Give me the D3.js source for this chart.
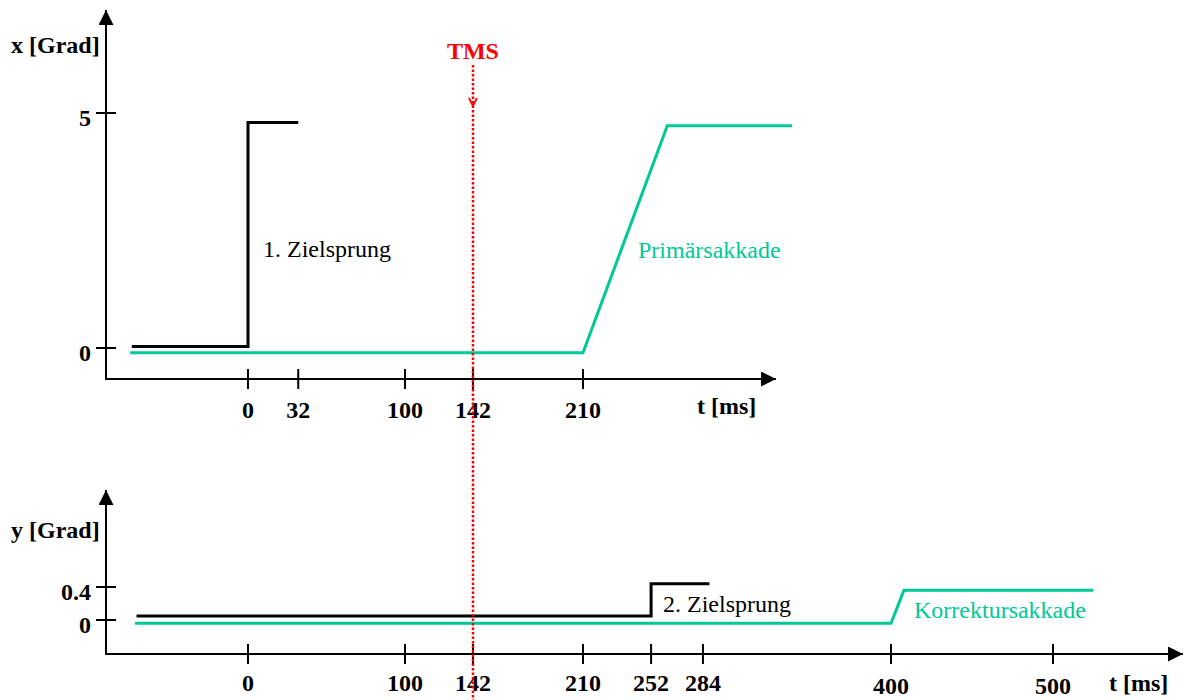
<!DOCTYPE html>
<html><head><meta charset="utf-8">
<script src="https://cdn.jsdelivr.net/npm/d3@7"></script>
<style>
html,body{margin:0;padding:0;background:#fff;}
svg{display:block;}
text{font-family:"Liberation Serif","Times New Roman",serif;}
</style></head>
<body><svg id="c" width="1184" height="700"></svg>
<script>
// ---- data ----
const topTicksX = [0, 32, 100, 142, 210];
const topTicksY = [0, 5];
const botTicksX = [0, 100, 142, 210, 252, 284, 400, 500];
const botTicksY = [0, 0.4];
// target (black) and eye (cyan) traces, top panel: [t ms, x Grad]
const topTarget = [[-74, 0.03], [0, 0.03], [0, 4.8], [32, 4.8]];
const topEye = [[-75, -0.1], [210, -0.1], [262, 4.73], [339, 4.73]];
// bottom panel: [t ms, y Grad]
const botTarget = [[-71, 0.05], [252, 0.05], [252, 0.44], [288, 0.44]];
const botEye = [[-72, -0.04], [400, -0.04], [408, 0.36], [525, 0.36]];
const tmsTime = 142;
const labels = {
  topY: "x [Grad]", botY: "y [Grad]", t: "t [ms]", tms: "TMS",
  jump1: "1. Zielsprung", jump2: "2. Zielsprung",
  sac1: "Primärsakkade", sac2: "Korrektursakkade"
};

const CYAN = "#00c896", RED = "#ff0000";
const FS = 24;
const svg = d3.select("#c");
// schematic (piecewise) time axis as drawn in the original
const x = d3.scaleLinear().domain([0, 100, 210, 400, 500]).range([248, 405, 583, 891, 1053]);
const yTop = d3.scaleLinear().domain([0, 5]).range([348, 113]);
const yBot = d3.scaleLinear().domain([0, 0.4]).range([620, 587]);

const defs = svg.append("defs");
defs.append("marker").attr("id", "arr").attr("viewBox", "0 0 10 10")
  .attr("refX", 10).attr("refY", 5).attr("markerWidth", 15).attr("markerHeight", 15)
  .attr("markerUnits", "userSpaceOnUse").attr("orient", "auto")
  .append("path").attr("d", "M0,0 L10,5 L0,10 Z").attr("fill", "#000");

function panel(opt) {
  const g = svg.append("g");
  const axX = 106;
  g.append("line").attr("x1", axX).attr("x2", axX).attr("y1", opt.axisY).attr("y2", opt.yTip)
    .attr("stroke", "#000").attr("stroke-width", 2).attr("marker-end", "url(#arr)");
  g.append("line").attr("x1", axX - 1).attr("x2", opt.xTip).attr("y1", opt.axisY).attr("y2", opt.axisY)
    .attr("stroke", "#000").attr("stroke-width", 2).attr("marker-end", "url(#arr)");
  g.selectAll(".xt").data(opt.xt).join("line")
    .attr("x1", d => x(d)).attr("x2", d => x(d))
    .attr("y1", opt.axisY - 10).attr("y2", opt.axisY + 10)
    .attr("stroke", "#000").attr("stroke-width", 2);
  g.selectAll(".xl").data(opt.xt).join("text")
    .attr("x", d => x(d)).attr("y", d => opt.xLabY(d))
    .attr("text-anchor", "middle").attr("font-weight", "bold").attr("font-size", FS)
    .text(d => d);
  g.selectAll(".yt").data(opt.yt).join("line")
    .attr("x1", axX - 10).attr("x2", axX + 10)
    .attr("y1", d => opt.y(d)).attr("y2", d => opt.y(d))
    .attr("stroke", "#000").attr("stroke-width", 2);
  g.selectAll(".yl").data(opt.yt).join("text")
    .attr("x", 91).attr("y", d => opt.y(d) + 13)
    .attr("text-anchor", "end").attr("font-weight", "bold").attr("font-size", FS)
    .text(d => d);
  g.append("text").attr("x", 11).attr("y", opt.yTitleY).attr("font-weight", "bold")
    .attr("font-size", FS).text(opt.yTitle);
  g.append("text").attr("x", opt.tX).attr("y", opt.tY).attr("font-weight", "bold")
    .attr("font-size", FS).text(labels.t);
  const line = d3.line().x(d => x(d[0])).y(d => opt.y(d[1]));
  g.append("path").attr("d", line(opt.target)).attr("fill", "none")
    .attr("stroke", "#000").attr("stroke-width", 3);
  g.append("path").attr("d", line(opt.eye)).attr("fill", "none")
    .attr("stroke", CYAN).attr("stroke-width", 3);
  return g;
}

panel({axisY: 379, yTip: 10, xTip: 776, xt: topTicksX, yt: topTicksY, y: yTop,
  xLabY: () => 418, yTitle: labels.topY, yTitleY: 53, tX: 697, tY: 414,
  target: topTarget, eye: topEye});
panel({axisY: 654, yTip: 490, xTip: 1183, xt: botTicksX, yt: botTicksY, y: yBot,
  xLabY: d => d >= 400 ? 694 : 691, yTitle: labels.botY, yTitleY: 538, tX: 1109, tY: 691,
  target: botTarget, eye: botEye});

svg.append("text").attr("x", 263).attr("y", 257).attr("font-size", FS).text(labels.jump1);
svg.append("text").attr("x", 638).attr("y", 258).attr("font-size", FS).attr("fill", CYAN).text(labels.sac1);
svg.append("text").attr("x", 663).attr("y", 612).attr("font-size", FS).text(labels.jump2);
svg.append("text").attr("x", 914).attr("y", 618).attr("font-size", FS).attr("fill", CYAN).text(labels.sac2);

const tx = x(tmsTime);
svg.append("text").attr("x", tx).attr("y", 59).attr("text-anchor", "middle")
  .attr("font-weight", "bold").attr("font-size", FS).attr("fill", RED).text(labels.tms);
svg.append("line").attr("x1", tx).attr("x2", tx).attr("y1", 65).attr("y2", 700)
  .attr("stroke", RED).attr("stroke-width", 2.5).attr("stroke-dasharray", "2.5,2");
svg.append("path").attr("d", `M${tx-4},${98} L${tx},${106} L${tx+4},${98}`)
  .attr("fill", "none").attr("stroke", RED).attr("stroke-width", 1.8);
</script></body></html>
